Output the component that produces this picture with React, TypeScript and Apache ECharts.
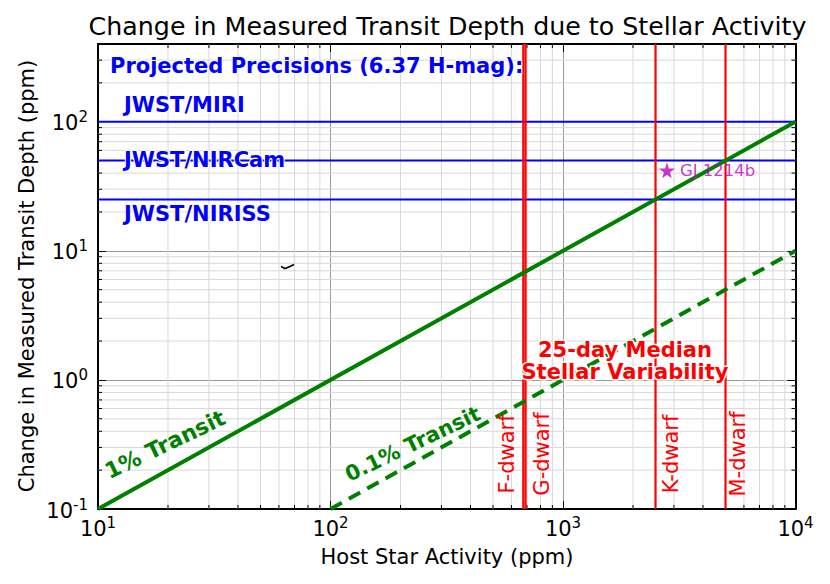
import React, { useEffect, useRef } from 'react';
import * as echarts from 'echarts';

const FONT = 'DejaVu Sans';

// axis extents
const xRange = [10, 10000];
const yRange = [0.1, 400];

// minor tick positions (log axes)
const xMinorTicks = [20, 30, 40, 50, 60, 70, 80, 90, 200, 300, 400, 500, 600, 700, 800, 900, 2000, 3000, 4000, 5000, 6000, 7000, 8000, 9000];
const yMinorTicks = [0.2, 0.3, 0.4, 0.5, 0.6, 0.7, 0.8, 0.9, 2, 3, 4, 5, 6, 7, 8, 9, 20, 30, 40, 50, 60, 70, 80, 90, 200, 300];

// transit depth lines
const transit1X = [10, 10000];
const transit1Y = [0.1, 100];
const transit01X = [100, 10000];
const transit01Y = [0.1, 10];

// projected precisions (ppm)
const precisionNames = ['JWST/MIRI', 'JWST/NIRCam', 'JWST/NIRISS'];
const precisionValues = [100, 50, 25];

// 25-day median stellar variability (ppm)
const dwarfNames = ['F-dwarf', 'G-dwarf', 'K-dwarf', 'M-dwarf'];
const dwarfVariability = [675, 690, 2500, 5000];

// planet
const planetName = 'GJ 1214b';
const planetActivity = [2800];
const planetDepth = [42];

const STAR = 'path://M50,0 L61,35 L98,35 L68,57 L79,91 L50,70 L21,91 L32,57 L2,35 L39,35 Z';

function powLabel(v: number): string {
  const l = Math.log10(v);
  const e = Math.round(l);
  if (Math.abs(l - e) > 1e-6) return '';
  return `{b|10}{s|${e}}`;
}

const labelRich = {
  b: { fontSize: 21, fontFamily: FONT, color: '#000', lineHeight: 24, verticalAlign: 'bottom' },
  s: { fontSize: 15, fontFamily: FONT, color: '#000', lineHeight: 15, verticalAlign: 'top' },
};

function minorRenderer(isX: boolean) {
  return (params: any, api: any) => {
    const v = api.value(isX ? 0 : 1);
    const a = isX ? api.coord([v, yRange[0]]) : api.coord([xRange[0], v]);
    const b = isX ? api.coord([v, yRange[1]]) : api.coord([xRange[1], v]);
    const tick = 4;
    const grid = { type: 'line', shape: { x1: a[0], y1: a[1], x2: b[0], y2: b[1] }, style: { stroke: '#d8d8d8', lineWidth: 1 } };
    const t1 = isX
      ? { type: 'line', shape: { x1: a[0], y1: a[1], x2: a[0], y2: a[1] - tick }, style: { stroke: '#000', lineWidth: 1 } }
      : { type: 'line', shape: { x1: a[0], y1: a[1], x2: a[0] + tick, y2: a[1] }, style: { stroke: '#000', lineWidth: 1 } };
    const t2 = isX
      ? { type: 'line', shape: { x1: b[0], y1: b[1], x2: b[0], y2: b[1] + tick }, style: { stroke: '#000', lineWidth: 1 } }
      : { type: 'line', shape: { x1: b[0], y1: b[1], x2: b[0] - tick, y2: b[1] }, style: { stroke: '#000', lineWidth: 1 } };
    return { type: 'group', children: [grid, t1, t2] };
  };
}

export default function App() {
  const ref = useRef<HTMLDivElement>(null);

  useEffect(() => {
    if (!ref.current) return;
    const chart = echarts.init(ref.current, undefined, { renderer: 'svg' });

    const baseAxis = {
      type: 'log',
      logBase: 10,
      axisLine: { show: true, onZero: false, lineStyle: { color: '#000', width: 2 } },
      axisTick: { show: true, inside: true, length: 8, lineStyle: { color: '#000', width: 1 } },
      minorTick: { show: false },
      minorSplitLine: { show: false },
    };

    const series: any[] = [];

    series.push({
      type: 'custom', coordinateSystem: 'cartesian2d', silent: true, clip: false, z: 1,
      data: xMinorTicks.map((v) => [v, yRange[0]]),
      renderItem: minorRenderer(true),
    });
    series.push({
      type: 'custom', coordinateSystem: 'cartesian2d', silent: true, clip: false, z: 1,
      data: yMinorTicks.map((v) => [xRange[0], v]),
      renderItem: minorRenderer(false),
    });

    precisionValues.forEach((v, i) => {
      series.push({
        name: precisionNames[i], type: 'line', showSymbol: false, silent: true, z: 2,
        data: [[xRange[0], v], [xRange[1], v]],
        lineStyle: { color: '#0000ff', width: 2 },
      });
    });

    dwarfVariability.forEach((v, i) => {
      series.push({
        name: dwarfNames[i], type: 'line', showSymbol: false, silent: true, z: 2,
        data: [[v, yRange[0]], [v, yRange[1]]],
        lineStyle: { color: '#ff0000', width: 2.2 },
      });
    });

    series.push({
      name: '1% Transit', type: 'line', showSymbol: false, silent: true, z: 3,
      data: transit1X.map((x, i) => [x, transit1Y[i]]),
      lineStyle: { color: '#008000', width: 4 },
    });
    series.push({
      name: '0.1% Transit', type: 'line', showSymbol: false, silent: true, z: 3,
      data: transit01X.map((x, i) => [x, transit01Y[i]]),
      lineStyle: { color: '#008000', width: 4, type: [13, 8] },
    });

    series.push({
      name: planetName, type: 'scatter', z: 4, silent: true,
      data: planetActivity.map((x, i) => [x, planetDepth[i]]),
      symbol: STAR, symbolSize: 16,
      itemStyle: { color: '#bf00bf' },
      label: {
        show: true, position: 'right', distance: 5, formatter: planetName,
        color: '#bf00bf', fontSize: 16.5, fontFamily: FONT,
      },
    });

    const blueText = (text: string, x: number, y: number) => ({
      type: 'text', x, y, z: 10,
      style: {
        text, fill: '#0000ff', font: `bold 21px "${FONT}"`, textAlign: 'left', textVerticalAlign: 'middle',
        stroke: '#ffffff', lineWidth: 2,
      },
    });
    const redVert = (text: string, x: number) => ({
      type: 'text', x, y: 454, rotation: Math.PI / 2, z: 10,
      style: { text, fill: '#ff0000', font: `21px "${FONT}"`, textAlign: 'center', textVerticalAlign: 'middle' },
    });
    const greenRot = (text: string, x: number, y: number, size: number) => ({
      type: 'text', x, y, rotation: (25.5 * Math.PI) / 180, z: 10,
      style: { text, fill: '#008000', font: `bold ${size}px "${FONT}"`, textAlign: 'center', textVerticalAlign: 'middle' },
    });

    const option: any = {
      animation: false,
      backgroundColor: '#ffffff',
      grid: { left: 98, top: 44, right: 34.5, bottom: 75, containLabel: false, outerBoundsMode: 'none' },
      xAxis: [
        {
          ...baseAxis, position: 'bottom', min: xRange[0], max: xRange[1],
          splitLine: { show: true, lineStyle: { color: '#9a9a9a', width: 1 } },
          axisLabel: { show: true, margin: 6, formatter: powLabel, rich: labelRich, showMinLabel: true, showMaxLabel: true },
        },
        {
          ...baseAxis, position: 'top', min: xRange[0], max: xRange[1],
          splitLine: { show: false }, axisLabel: { show: false },
        },
      ],
      yAxis: [
        {
          ...baseAxis, position: 'left', min: yRange[0], max: yRange[1],
          splitLine: { show: true, lineStyle: { color: '#9a9a9a', width: 1 } },
          axisLabel: { show: true, margin: 10, formatter: powLabel, rich: labelRich, showMinLabel: true, showMaxLabel: true },
        },
        {
          ...baseAxis, position: 'right', min: yRange[0], max: yRange[1],
          splitLine: { show: false }, axisLabel: { show: false },
        },
      ],
      series,
      graphic: [
        {
          type: 'text', x: 447.5, y: 26, z: 10,
          style: { text: 'Change in Measured Transit Depth due to Stellar Activity', fill: '#000', font: `25.3px "${FONT}"`, textAlign: 'center', textVerticalAlign: 'middle' },
        },
        {
          type: 'text', x: 447, y: 557, z: 10,
          style: { text: 'Host Star Activity (ppm)', fill: '#000', font: `21px "${FONT}"`, textAlign: 'center', textVerticalAlign: 'middle' },
        },
        {
          type: 'text', x: 27, y: 276, rotation: Math.PI / 2, z: 10,
          style: { text: 'Change in Measured Transit Depth (ppm)', fill: '#000', font: `21px "${FONT}"`, textAlign: 'center', textVerticalAlign: 'middle' },
        },
        blueText('Projected Precisions (6.37 H-mag):', 110, 65.5),
        blueText(precisionNames[0], 124, 104.5),
        blueText(precisionNames[1], 124, 160),
        blueText(precisionNames[2], 124, 214),
        {
          type: 'text', x: 625, y: 349.5, z: 10,
          style: { text: '25-day Median', fill: '#ff0000', font: `bold 21px "${FONT}"`, textAlign: 'center', textVerticalAlign: 'middle', stroke: '#fff', lineWidth: 3 },
        },
        {
          type: 'text', x: 625, y: 371.5, z: 10,
          style: { text: 'Stellar Variability', fill: '#ff0000', font: `bold 21px "${FONT}"`, textAlign: 'center', textVerticalAlign: 'middle', stroke: '#fff', lineWidth: 3 },
        },
        redVert(dwarfNames[0], 506.5),
        redVert(dwarfNames[1], 541.5),
        redVert(dwarfNames[2], 671),
        redVert(dwarfNames[3], 737.5),
        greenRot('1% Transit', 165, 444.5, 22),
        greenRot('0.1% Transit', 412.5, 443.5, 21),
        {
          type: 'polyline', z: 10,
          shape: { points: [[281, 266.5], [285, 268.5], [290, 266.5], [294, 264.5]] },
          style: { stroke: '#000', lineWidth: 1.6, fill: null },
        },
      ],
    };

    chart.setOption(option);
    return () => chart.dispose();
  }, []);

  return <div ref={ref} style={{ position: 'absolute', left: 0, top: 0, width: 830, height: 584 }} />;
}
